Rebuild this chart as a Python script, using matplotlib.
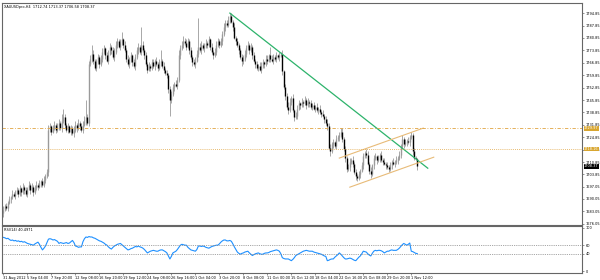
import numpy as np
import matplotlib
matplotlib.use('Agg')
import matplotlib.pyplot as plt
import matplotlib.transforms as mtransforms

# H4 closes (bar 0 = 31 Aug 2012)
closes = [
    1684, 1686, 1685, 1688, 1690, 1691, 1693, 1692, 1694, 1695,
    1693, 1696, 1694, 1697, 1695, 1693, 1696, 1698, 1695, 1697,
    1694, 1696, 1698, 1697, 1699, 1700, 1698, 1701, 1703, 1705,
    1729, 1731, 1728, 1730, 1732, 1729, 1731, 1733, 1730, 1734,
    1736, 1732, 1729, 1731, 1728, 1730, 1727, 1729, 1732, 1730,
    1733, 1731, 1729, 1732, 1734, 1736, 1733, 1766, 1769, 1772,
    1768, 1764, 1767, 1770, 1766, 1769, 1773, 1775, 1771, 1768,
    1772, 1776, 1774, 1770, 1773, 1777, 1779, 1776, 1778, 1780,
    1777, 1774, 1769, 1766, 1768, 1771, 1767, 1765, 1770, 1774,
    1776, 1773, 1777, 1774, 1771, 1766, 1763, 1765, 1764, 1767,
    1765, 1768, 1766, 1764, 1767, 1768, 1765, 1763, 1761, 1760,
    1752, 1746, 1749, 1753, 1755, 1754, 1757, 1771, 1775, 1777,
    1779, 1778, 1776, 1779, 1774, 1770, 1767, 1766, 1768, 1772,
    1776, 1774, 1777, 1775, 1776, 1778, 1777, 1780, 1776, 1773,
    1771, 1773, 1777, 1779, 1777, 1779, 1783, 1787, 1789, 1788,
    1791, 1793, 1790, 1787, 1781, 1779, 1777, 1774, 1770, 1768,
    1769, 1772, 1775, 1777, 1774, 1776, 1771, 1768, 1766, 1764,
    1765, 1763, 1765, 1767, 1766, 1769, 1768, 1771, 1769, 1768,
    1770, 1769, 1771, 1770, 1771, 1772, 1762, 1753, 1748, 1742,
    1740, 1745, 1747, 1740, 1736, 1737, 1741, 1744, 1743, 1745,
    1744, 1746, 1743, 1745, 1744, 1742, 1743, 1741, 1742, 1740,
    1741, 1739, 1738, 1737, 1735, 1733, 1731, 1719, 1717, 1721,
    1722, 1720, 1724, 1725, 1726, 1728, 1724, 1718, 1713, 1707,
    1708, 1711, 1712, 1710, 1705, 1703, 1702, 1704, 1706, 1709,
    1714, 1716, 1715, 1710, 1706, 1704, 1709, 1713, 1714, 1712,
    1713, 1715, 1712, 1711, 1710, 1709, 1708, 1707, 1709, 1711,
    1710, 1711, 1712, 1713, 1715, 1720, 1724, 1721, 1722, 1723,
    1722, 1725, 1726, 1717, 1713, 1712.74, 1708.37,
]
first_open = 1682

# wick above / below the body of each bar
wick_up = [
    2, 1, 2, 1, 2, 1, 2, 1, 1, 2,  1, 2, 1, 2, 1, 2, 1, 2, 1, 2,
    1, 2, 2, 1, 2, 1, 2, 2, 1, 2,  3, 2, 1, 2, 2, 1, 2, 2, 1, 4,
    5, 2, 1, 2, 1, 2, 1, 2, 2, 1,  2, 1, 2, 2, 3, 10, 2, 2, 2, 5,
    2, 1, 2, 2, 1, 2, 2, 2, 1, 2,  2, 2, 1, 2, 2, 2, 2, 1, 2, 4,
    1, 2, 1, 2, 2, 2, 1, 2, 2, 2,  2, 1, 10, 2, 1, 2, 1, 2, 1, 2,
    2, 1, 2, 1, 2, 6, 1, 2, 1, 2,  1, 2, 2, 2, 1, 2, 2, 3, 2, 2,
    3, 2, 2, 2, 1, 2, 1, 2, 2, 2,  16, 2, 2, 1, 2, 2, 1, 2, 1, 2,
    1, 2, 2, 2, 1, 2, 2, 2, 2, 2,  2, 2, 2, 1, 2, 1, 2, 1, 1, 2,
    2, 2, 2, 2, 1, 2, 1, 2, 1, 2,  1, 2, 2, 2, 1, 2, 2, 1, 5, 2,
    2, 1, 2, 1, 2, 1, 2, 1, 2, 2,  3, 2, 1, 2, 1, 2, 2, 2, 1, 2,
    1, 2, 1, 2, 1, 2, 1, 2, 1, 2,  1, 2, 1, 2, 1, 2, 2, 2, 2, 1,
    2, 1, 2, 1, 2, 2, 2, 1, 2, 1,  2, 2, 1, 2, 1, 2, 1, 2, 1, 2,
    2, 1, 2, 2, 1, 2, 1, 2, 2, 1,  2, 1, 2, 1, 2, 1, 2, 1, 2, 1,
    2, 1, 2, 1, 2, 1, 2, 1, 2, 1,  2, 1, 2, 1, 2, 1, 0.63,
]
wick_dn = [
    2, 1, 1, 2, 1, 2, 1, 1, 2, 1,  2, 1, 2, 1, 2, 1, 2, 1, 2, 1,
    2, 1, 1, 2, 1, 2, 1, 1, 2, 1,  2, 1, 2, 1, 1, 2, 1, 2, 1, 2,
    1, 2, 1, 2, 1, 2, 1, 2, 1, 2,  1, 2, 1, 2, 1, 2, 1, 2, 1, 2,
    2, 1, 2, 1, 2, 1, 2, 1, 2, 1,  2, 1, 2, 1, 2, 1, 2, 1, 2, 1,
    2, 1, 2, 1, 2, 1, 2, 1, 2, 1,  2, 1, 2, 1, 2, 1, 2, 1, 2, 1,
    1, 2, 1, 2, 1, 2, 1, 2, 1, 2,  2, 9, 2, 1, 2, 1, 2, 1, 2, 1,
    2, 1, 2, 1, 2, 1, 2, 1, 2, 1,  2, 1, 2, 1, 2, 1, 2, 1, 2, 1,
    2, 1, 2, 1, 2, 1, 2, 1, 2, 1,  1, 2, 1, 2, 1, 2, 1, 2, 1, 3,
    2, 1, 2, 1, 2, 1, 2, 1, 2, 1,  2, 1, 2, 1, 2, 1, 2, 1, 2, 1,
    2, 1, 2, 1, 2, 1, 2, 1, 2, 1,  2, 1, 2, 1, 2, 1, 2, 1, 2, 1,
    2, 1, 2, 1, 2, 1, 2, 1, 2, 1,  2, 1, 2, 1, 2, 1, 2, 1, 3, 1,
    2, 1, 2, 1, 2, 1, 2, 1, 2, 2,  1, 2, 1, 2, 1, 2, 2, 1, 2, 1,
    2, 1, 2, 1, 2, 2, 1, 2, 1, 2,  1, 2, 1, 2, 1, 2, 1, 2, 1, 2,
    1, 2, 1, 2, 1, 2, 1, 2, 1, 2,  1, 2, 1, 2, 1, 1, 1.79,
]

rsi = [
    78, 77, 75, 76, 73, 71, 72, 70, 71, 69,  70, 68, 69, 67, 68, 66, 64, 63, 62, 61,
    60, 63, 65, 67, 62, 55, 49, 53, 58, 66,  74, 75, 74, 72, 73, 71, 69, 64, 66, 65,
    64, 65, 66, 64, 65, 68, 71, 66, 58, 57,  55, 56, 56, 68, 75, 79, 78, 80, 79, 79,
    77, 76, 74, 72, 70, 69, 67, 65, 62, 60,  56, 53, 51, 55, 58, 60, 62, 63, 64, 61,
    58, 55, 52, 49, 50, 52, 53, 55, 57, 56,  58, 56, 55, 53, 50, 46, 42, 44, 46, 47,
    48, 47, 46, 46, 48, 49, 49, 47, 45, 42,  35, 28, 34, 42, 44, 46, 50, 55, 60, 62,
    61, 60, 60, 55, 52, 49, 48, 47, 46, 50,  58, 58, 57, 58, 57, 55, 54, 53, 55, 57,
    58, 59, 60, 60, 63, 67, 70, 72, 72, 70,  70, 71, 69, 63, 56, 50, 44, 41, 39, 41,
    42, 44, 45, 46, 42, 39, 36, 38, 40, 41,  42, 40, 39, 39, 41, 42, 42, 43, 45, 46,
    47, 48, 49, 48, 46, 40, 31, 29, 28, 28,  28, 26, 24, 27, 31, 36, 38, 40, 42, 44,
    46, 47, 48, 47, 46, 46, 46, 44, 43, 42,  41, 40, 39, 37, 35, 34, 24, 25, 27, 28,
    28, 32, 35, 38, 42, 39, 35, 31, 28, 28,  29, 30, 29, 27, 25, 24, 28, 32, 35, 40,
    46, 45, 44, 40, 37, 35, 41, 46, 48, 47,  48, 48, 47, 45, 42, 44, 46, 46, 48, 49,
    48, 48, 48, 50, 53, 57, 61, 64, 62, 60,  62, 65, 46, 45, 43, 41, 40.5,
]

time_labels = ['31 Aug 2012', '5 Sep 04:00', '7 Sep 20:00', '12 Sep 08:00', '16 Sep 20:00',
               '19 Sep 12:00', '24 Sep 08:00', '26 Sep 16:00', '1 Oct 04:00', '3 Oct 20:00',
               '8 Oct 08:00', '11 Oct 00:00', '15 Oct 12:00', '18 Oct 04:00', '22 Oct 16:00',
               '25 Oct 08:00', '29 Oct 20:00', '1 Nov 12:00']
label_step = 16

price_ticks = [1794.85, 1787.85, 1780.85, 1773.85, 1766.85, 1759.85, 1752.85, 1745.85,
               1738.85, 1731.85, 1724.85, 1717.85, 1710.85, 1703.85, 1697.05, 1690.05,
               1683.05, 1676.05]

# drawn objects: trendline, channel, horizontal levels
trend_bars, trend_prices = [151, 283], [1794.85, 1707.4]
chan_lo_bars, chan_lo_prices = [231, 287], [1696.7, 1713.6]
chan_hi_bars, chan_hi_prices = [224, 280], [1713.1, 1730.0]
level_dashdot = 1729.97
level_dotted = 1718.16
last_price = 1708.37

title = 'XAUUSDpro,H4  1712.74 1713.37 1706.58 1708.37'
rsi_title = 'RSI(14) 40.4971'

FS = 2.5
font = {'size': FS}
matplotlib.rc('font', **font)

closes = np.array(closes, dtype=float)
opens = np.concatenate([[first_open], closes[:-1]])
highs = np.maximum(opens, closes) + np.array(wick_up)
lows = np.minimum(opens, closes) - np.array(wick_dn)
idx = np.arange(len(closes))

fig = plt.figure(figsize=(6, 2.8), dpi=100)
ax = fig.add_axes([0.0033, 0.196, 0.967, 0.793])
ax2 = fig.add_axes([0.0033, 0.025, 0.967, 0.168])

edge = '#666666'
for a in (ax, ax2):
    for s in a.spines.values():
        s.set_color(edge)
        s.set_linewidth(0.8)
    a.set_xlim(-1, 386)
    a.yaxis.tick_right()
    a.tick_params(axis='y', length=1.5, width=0.5, color=edge, pad=0.8, labelsize=FS)

# candles
up = closes >= opens
ax.vlines(idx, lows, highs, color='#a8a8a8', linewidth=0.7)
ax.vlines(idx[up], opens[up], closes[up], color='#9a9a9a', linewidth=1.0)
ax.vlines(idx[~up], opens[~up], closes[~up], color='black', linewidth=1.0)

ax.plot(trend_bars, trend_prices, color='#2db36b', linewidth=0.9)
ax.plot(chan_lo_bars, chan_lo_prices, color='#e8bb78', linewidth=0.8)
ax.plot(chan_hi_bars, chan_hi_prices, color='#e8bb78', linewidth=0.8)
ax.axhline(level_dashdot, color='#e0a440', linewidth=0.6, linestyle=(0, (4, 2, 1, 2)))
ax.axhline(level_dotted, color='#e0a440', linewidth=0.6, linestyle=(0, (1, 1.5)))

ax.set_ylim(1675.3, 1800.5)
ax.set_yticks(price_ticks)
ax.set_yticklabels(['%.2f' % t for t in price_ticks])
ax.set_xticks([])

tr = mtransforms.blended_transform_factory(ax.transAxes, ax.transData)
for val, fc, tc in [(level_dashdot, '#d8a630', 'white'), (level_dotted, '#d8a630', 'white'),
                    (last_price, 'black', 'white')]:
    ax.text(1.003, val, '%.2f' % val, transform=tr, fontsize=FS, color=tc, va='center', ha='left',
            bbox=dict(boxstyle='square,pad=0.1', fc=fc, ec='none'), clip_on=False)

ax.text(0.004, 0.993, title, transform=ax.transAxes, fontsize=2.5, va='top', ha='left')

# RSI panel
ax2.plot(idx, rsi, color='#1e90ff', linewidth=0.8)
ax2.axhline(60, color='#888888', linewidth=0.6, linestyle=(0, (1, 1.2)))
ax2.axhline(40, color='#888888', linewidth=0.6, linestyle=(0, (1, 1.2)))
ax2.set_ylim(-4.6, 104.6)
ax2.set_yticks([100, 60, 40, 0])
ax2.set_yticklabels(['100', '60', '40', '0'])
ax2.text(0.004, 0.96, rsi_title, transform=ax2.transAxes, fontsize=2.5, va='top', ha='left')

xt = np.arange(len(time_labels)) * label_step
ax2.set_xticks(xt)
ax2.set_xticklabels(time_labels, ha='left')
ax2.tick_params(axis='x', length=1.5, width=0.5, color=edge, pad=0.8, labelsize=FS)

fig.savefig('out.png', dpi=100, facecolor='white')
